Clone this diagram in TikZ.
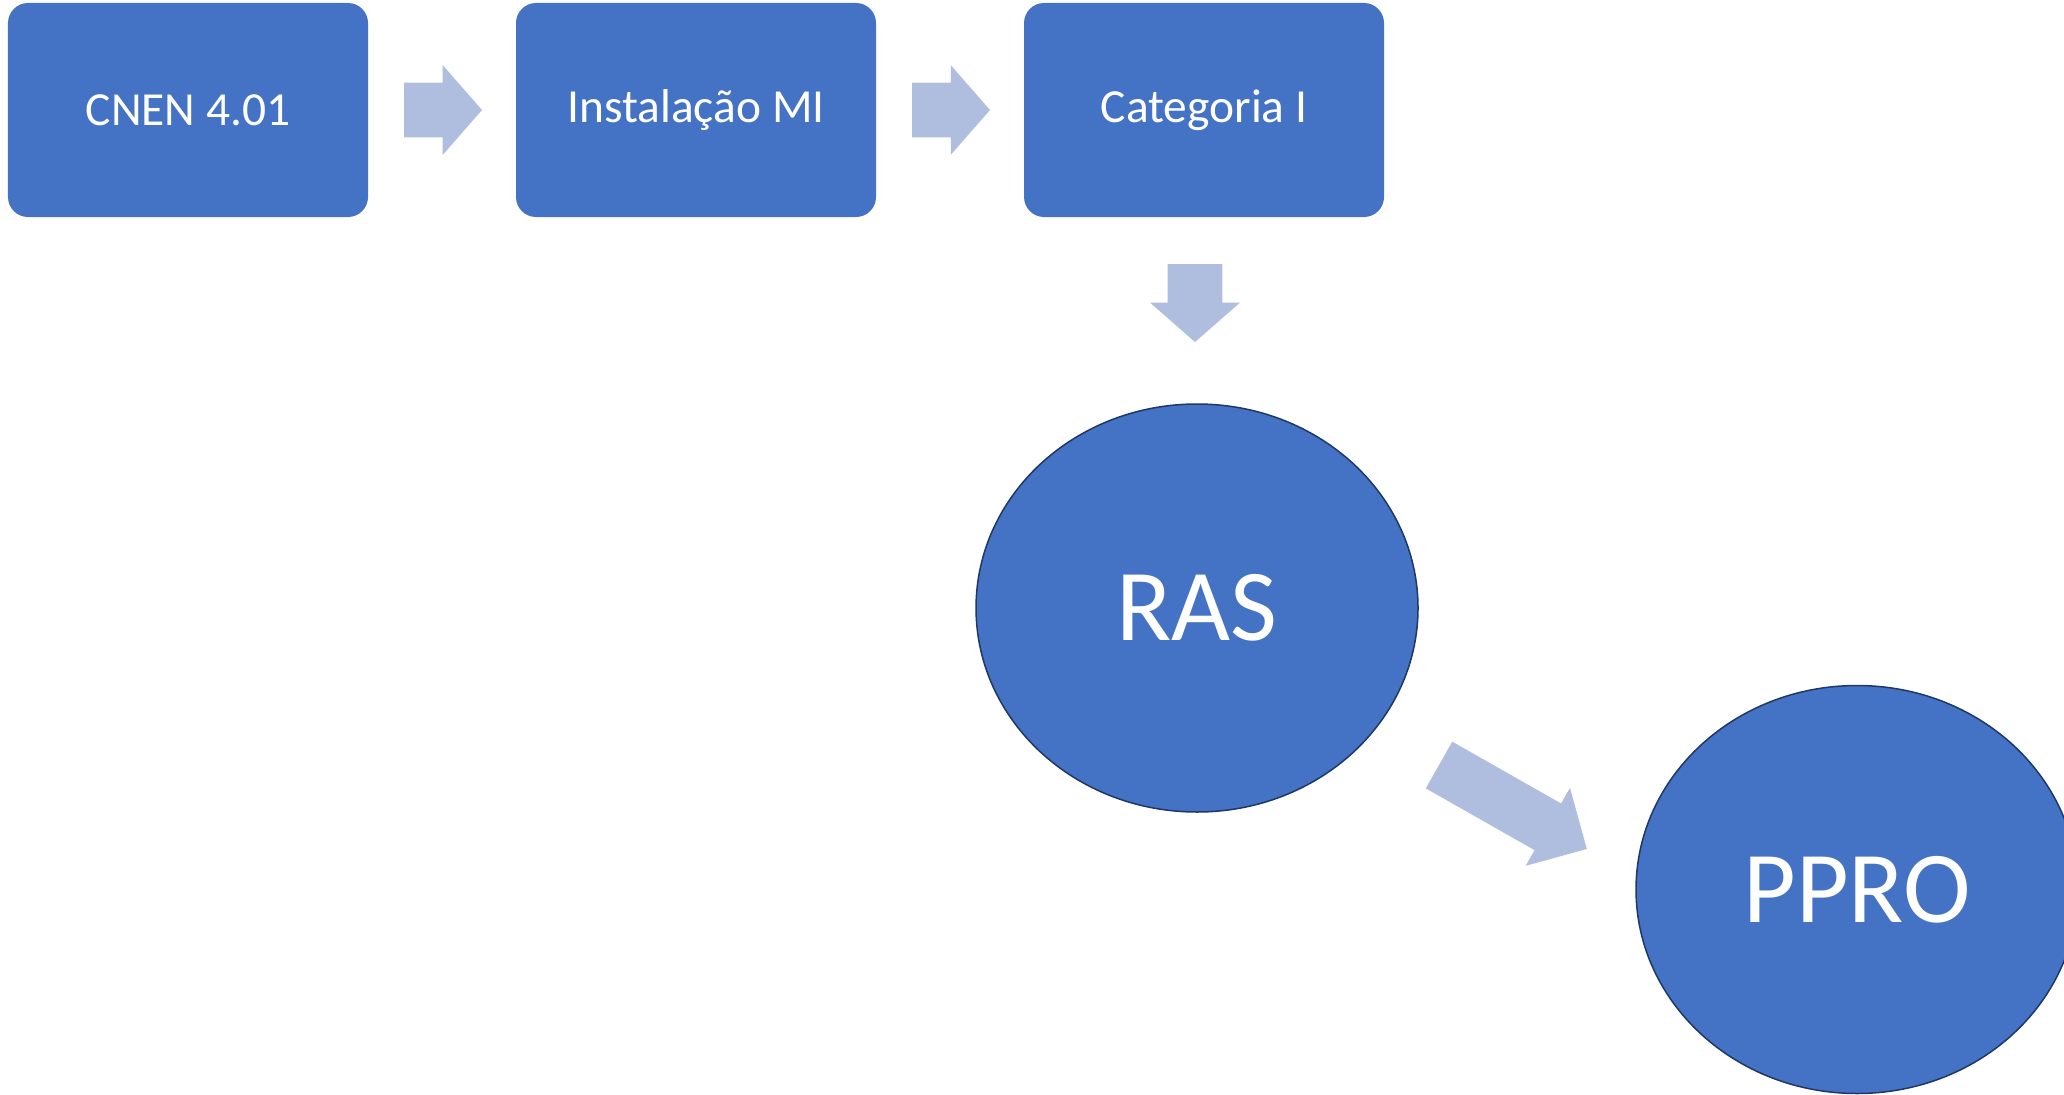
\documentclass[tikz,border=0pt]{standalone}
\usepackage{fontspec}
\setmainfont{Carlito}
\usepackage{xcolor}
\usetikzlibrary{shapes, arrows, positioning}
\definecolor{boxblue}{HTML}{4472C4}
\definecolor{arrowblue}{RGB}{175,189,223}
\definecolor{rimblue}{HTML}{1F3864}
\tikzset{
  stagenode/.style={rectangle, rounded corners=0.4cm, fill=boxblue, text=white, minimum width=7.2cm, minimum height=4.28cm, outer sep=0pt, align=center, font=\fontsize{27}{32}\selectfont},
  plannode/.style={ellipse, draw=rimblue, line width=0.03cm, fill=boxblue, text=white, minimum width=8.84cm, minimum height=8.16cm, inner sep=0pt, outer sep=0pt, font=\fontsize{58}{68}\selectfont},
  blockarrow/.style={single arrow, fill=arrowblue, inner xsep=0pt, inner ysep=0.54cm, outer sep=0pt, minimum width=1.78cm, minimum height=1.56cm, single arrow head extend=0.35cm, single arrow tip angle=97.6, single arrow head indent=0pt},
  downarrow/.style={blockarrow, shape border rotate=270, inner xsep=0.54cm, inner ysep=0pt},
  longarrow/.style={blockarrow, inner ysep=0.53cm, minimum height=3.4cm, single arrow head extend=0.36cm, single arrow tip angle=90}
}
\begin{document}
\begin{tikzpicture}
\useasboundingbox (0,0) rectangle (41.28,-21.88);

% Nodes
\node[stagenode] (cnen) at (3.76,-2.2) {CNEN 4.01};
\node[blockarrow, right=0.72cm of cnen] (arr1) {};
\node[stagenode, right=0.68cm of arr1] (inst) {Instalação MI};
\node[blockarrow, right=0.72cm of inst] (arr2) {};
\node[stagenode, right=0.68cm of arr2] (cat) {Categoria I};
\node[downarrow, below=0.94cm of cat.south, anchor=tail, xshift=-0.18cm] (arr3) {};
\node[plannode, below=1.24cm of arr3.tip, anchor=north, xshift=0.04cm] (ras) {RAS};
\node[plannode, below right=5.63cm and 13.2cm of ras.center, anchor=center] (ppro) {PPRO};
\node[longarrow, below right=3.14cm and 4.84cm of ras.center, anchor=tail, rotate=-29.6] (arr4) {};

\end{tikzpicture}
\end{document}
